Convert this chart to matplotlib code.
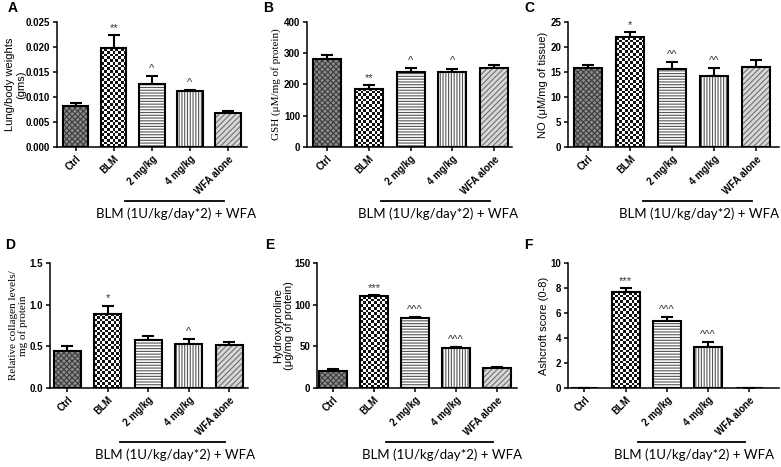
import matplotlib.pyplot as plt
import matplotlib.transforms as mtransforms
from matplotlib.colors import ListedColormap
import numpy as np

plt.rcParams['font.family'] = 'Liberation Sans'
plt.rcParams['hatch.linewidth'] = 0.8

groups = ['Ctrl', 'BLM', '2 mg/kg', '4 mg/kg', 'WFA alone']
group_text = 'BLM (1U/kg/day*2) + WFA'

lung_mean = [0.0082, 0.0197, 0.0126, 0.0111, 0.0067]
lung_err = [0.0005, 0.0027, 0.0015, 0.0002, 0.0005]
lung_sig = ['', '**', '^', '^', '']

gsh_mean = [283, 187, 241, 241, 253]
gsh_err = [12, 10, 12, 10, 10]
gsh_sig = ['', '**', '^', '^', '']

no_mean = [15.7, 22.0, 15.6, 14.2, 16.0]
no_err = [0.7, 0.9, 1.4, 1.5, 1.3]
no_sig = ['', '*', '^^', '^^', '']

coll_mean = [0.45, 0.89, 0.58, 0.53, 0.52]
coll_err = [0.06, 0.10, 0.05, 0.06, 0.03]
coll_sig = ['', '*', '', '^', '']

hyp_mean = [21, 110, 84, 48, 24]
hyp_err = [1.5, 2, 1.5, 1.5, 1]
hyp_sig = ['', '***', '^^^', '^^^', '']

ash_mean = [0, 7.65, 5.35, 3.3, 0]
ash_err = [0, 0.35, 0.3, 0.35, 0]
ash_sig = ['', '***', '^^^', '^^^', '']

# fill / hatch colour / hatch for each group (None = checkerboard)
styles = [('#8c8c8c', '#3c3c3c', 'xxxxxx'),
          ('white', 'black', None),
          ('white', '#555555', '------'),
          ('white', '#555555', '||||||'),
          ('#d8d8d8', '#707070', '//////')]

W, H = 781, 467
fig = plt.figure(figsize=(W / 100, H / 100), dpi=100)


def checker(ax, bar, cell=2.7):
    # checkerboard fill clipped to the bar
    x0, y0 = bar.get_x(), bar.get_y()
    w, h = bar.get_width(), bar.get_height()
    if h <= 0:
        return
    (px0, py0), (px1, py1) = ax.transData.transform([(x0, y0), (x0 + w, y0 + h)])
    nx = max(1, int(round((px1 - px0) / cell)))
    ny = max(1, int(round((py1 - py0) / cell)))
    grid = np.add.outer(np.arange(ny), np.arange(nx)) % 2
    im = ax.imshow(grid, extent=(x0, x0 + w, y0, y0 + h), origin='lower',
                   cmap=ListedColormap(['#111111', 'white']), interpolation='nearest',
                   aspect='auto', zorder=2)
    im.set_clip_path(bar)


def panel(letter, letter_xy, box, xlim, mean, err, sig, yticks, fmt, ylabel, label_x,
          serif=False):
    left, top, right, bottom = box
    ax = fig.add_axes([left / W, 1 - bottom / H, (right - left) / W, (bottom - top) / H])
    x = np.arange(len(groups))
    ax.set_xlim(*xlim)
    ax.set_ylim(yticks[0], yticks[-1])
    for i in range(len(groups)):
        face, hc, hatch = styles[i]
        b = ax.bar(x[i], mean[i], width=0.67, color=face, edgecolor=hc, hatch=hatch,
                   linewidth=0, zorder=2)
        if hatch is None:
            checker(ax, b[0])
    ax.bar(x, mean, width=0.67, fill=False, edgecolor='black', linewidth=1.5, zorder=3)
    ax.errorbar(x, mean, yerr=[np.zeros(len(err)), err], fmt='none', ecolor='black',
                elinewidth=1.5, capsize=4, capthick=1.5, zorder=1)
    for i, s in enumerate(sig):
        if s:
            ax.annotate(s, (x[i], mean[i] + err[i]), xytext=(0, 1.5),
                        textcoords='offset points', ha='center', va='bottom',
                        fontsize=8, color='#333333')
    ax.set_xlim(*xlim)
    ax.set_ylim(yticks[0], yticks[-1])
    ax.set_yticks(yticks)
    ax.set_yticklabels([fmt.format(v) for v in yticks], fontsize=7, fontweight='bold')
    ax.set_xticks(x)
    ax.set_xticklabels(groups, rotation=45, ha='right', rotation_mode='anchor',
                       fontsize=7, fontweight='bold')
    for sp in ['top', 'right']:
        ax.spines[sp].set_visible(False)
    for sp in ['left', 'bottom']:
        ax.spines[sp].set_linewidth(1.1)
    ax.tick_params(axis='both', length=3, width=1.1, pad=2)
    ax.set_ylabel(ylabel, fontsize=8,
                  family='Liberation Serif' if serif else 'Liberation Sans',
                  linespacing=1.1)
    ax.yaxis.set_label_coords((label_x - left) / (right - left), 0.5)

    trans = mtransforms.blended_transform_factory(ax.transData, ax.transAxes)
    ax.plot([1.3, 3.9], [-0.43, -0.43], transform=trans, clip_on=False,
            color='black', linewidth=1.3)
    ax.text(2.65, -0.535, group_text, transform=trans, ha='center', va='center',
            fontsize=9.5, family='Lato')
    fig.text(letter_xy[0] / W, 1 - letter_xy[1] / H, letter,
             fontsize=10, fontweight='bold', va='center')
    return ax


panel('A', (8, 8), (57, 22, 247, 147), (-0.49, 4.5), lung_mean, lung_err, lung_sig,
      [0, 0.005, 0.010, 0.015, 0.020, 0.025], '{:.3f}',
      'Lung/body weights\n(gms)', 26)
panel('B', (263, 8), (307, 22, 512, 147), (-0.48, 4.43), gsh_mean, gsh_err, gsh_sig,
      [0, 100, 200, 300, 400], '{:d}', 'GSH (\u03bcM/mg of protein)', 281, serif=True)
panel('C', (524, 8), (568, 22, 779, 147), (-0.48, 4.55), no_mean, no_err, no_sig,
      [0, 5, 10, 15, 20, 25], '{:d}', 'NO (\u03bcM/mg of tissue)', 548)
panel('D', (5, 245), (50, 263, 248, 388), (-0.43, 4.46), coll_mean, coll_err, coll_sig,
      [0.0, 0.5, 1.0, 1.5], '{:.1f}', 'Relative collagen levels/\nmg of protein', 28,
      serif=True)
panel('E', (265, 245), (317, 263, 517, 388), (-0.39, 4.49), hyp_mean, hyp_err, hyp_sig,
      [0, 50, 100, 150], '{:d}', 'Hydroxyproline\n(\u03bcg/mg of protein)', 294)
panel('F', (524, 245), (568, 263, 779, 388), (-0.4, 4.72), ash_mean, ash_err, ash_sig,
      [0, 2, 4, 6, 8, 10], '{:d}', 'Ashcroft score (0-8)', 549)

fig.savefig('out.png', dpi=100)
